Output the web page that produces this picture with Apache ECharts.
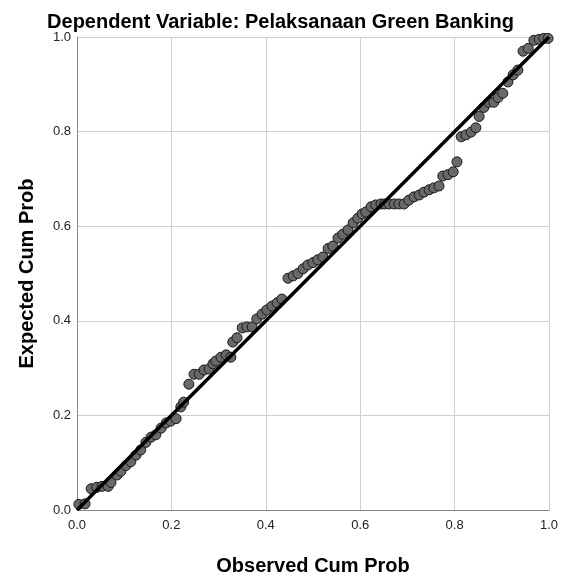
<!DOCTYPE html>
<html>
<head>
<meta charset="utf-8">
<script src="https://cdn.jsdelivr.net/npm/echarts@6/dist/echarts.min.js"></script>
<style>
  html, body { margin: 0; padding: 0; background: #fff; }
  #chart { width: 561px; height: 575px; }
</style>
</head>
<body>
<div id="chart"></div>
<script>
// observed vs expected cumulative probability
var observed = [
  0.004, 0.017, 0.030, 0.042, 0.053, 0.066, 0.072, 0.085, 0.093, 0.104,
  0.114, 0.125, 0.135, 0.146, 0.157, 0.167, 0.178, 0.189, 0.199, 0.210,
  0.220, 0.226, 0.237, 0.248, 0.259, 0.269, 0.280, 0.288, 0.294, 0.305,
  0.316, 0.326, 0.330, 0.339, 0.350, 0.360, 0.371, 0.381, 0.392, 0.402,
  0.413, 0.424, 0.434, 0.447, 0.458, 0.468, 0.479, 0.489, 0.500, 0.510,
  0.521, 0.532, 0.542, 0.553, 0.563, 0.574, 0.585, 0.595, 0.604, 0.612,
  0.623, 0.633, 0.644, 0.652, 0.661, 0.672, 0.682, 0.693, 0.703, 0.714,
  0.725, 0.735, 0.746, 0.756, 0.767, 0.775, 0.786, 0.797, 0.805, 0.814,
  0.824, 0.835, 0.845, 0.852, 0.862, 0.873, 0.883, 0.892, 0.902, 0.913,
  0.924, 0.934, 0.945, 0.956, 0.968, 0.979, 0.989, 0.998
];
var expected = [
  0.012, 0.013, 0.045, 0.048, 0.050, 0.050, 0.058, 0.074, 0.082, 0.094,
  0.102, 0.116, 0.127, 0.143, 0.154, 0.159, 0.173, 0.184, 0.188, 0.193,
  0.218, 0.228, 0.266, 0.287, 0.287, 0.296, 0.298, 0.309, 0.315, 0.323,
  0.328, 0.323, 0.355, 0.364, 0.385, 0.387, 0.387, 0.404, 0.414, 0.423,
  0.431, 0.438, 0.446, 0.490, 0.495, 0.500, 0.510, 0.518, 0.523, 0.529,
  0.535, 0.553, 0.558, 0.575, 0.583, 0.592, 0.607, 0.617, 0.626, 0.630,
  0.641, 0.645, 0.647, 0.647, 0.647, 0.647, 0.647, 0.647, 0.655, 0.662,
  0.666, 0.672, 0.677, 0.681, 0.685, 0.706, 0.709, 0.715, 0.736, 0.789,
  0.793, 0.799, 0.808, 0.832, 0.851, 0.862, 0.862, 0.872, 0.881, 0.905,
  0.920, 0.930, 0.970, 0.976, 0.993, 0.995, 0.997, 0.997
];
var refLine = [[0, 0], [1, 1]];
var tickMin = 0, tickMax = 1, tickStep = 0.2;

var chart = echarts.init(document.getElementById('chart'));

var points = [];
for (var i = 0; i < observed.length; i++) {
  points.push([observed[i], expected[i]]);
}

var font = 'Arial, "Liberation Sans", sans-serif';

var option = {
  backgroundColor: '#ffffff',
  animation: false,
  title: {
    text: 'Dependent Variable: Pelaksanaan Green Banking',
    left: 'center',
    top: 7,
    textStyle: { fontFamily: font, fontSize: 20, fontWeight: 'bold', color: '#000' }
  },
  grid: { left: 77, right: 12, top: 37, bottom: 65, outerBoundsMode: 'none' },
  xAxis: {
    type: 'value',
    min: tickMin, max: tickMax, interval: tickStep,
    name: 'Observed Cum Prob',
    nameLocation: 'middle',
    nameGap: 46,
    nameTextStyle: { fontFamily: font, fontSize: 20, fontWeight: 'bold', color: '#000' },
    axisLine: { lineStyle: { color: '#888', width: 1 } },
    axisTick: { show: false },
    axisLabel: {
      fontFamily: font, fontSize: 13, color: '#222', margin: 9,
      formatter: function (v) { return v.toFixed(1); }
    },
    splitLine: { show: true, lineStyle: { color: '#cfcfcf', width: 1 } }
  },
  yAxis: {
    type: 'value',
    min: tickMin, max: tickMax, interval: tickStep,
    name: 'Expected Cum Prob',
    nameLocation: 'middle',
    nameGap: 40,
    nameTextStyle: { fontFamily: font, fontSize: 20, fontWeight: 'bold', color: '#000' },
    axisLine: { show: true, lineStyle: { color: '#888', width: 1 } },
    axisTick: { show: false },
    axisLabel: {
      fontFamily: font, fontSize: 13, color: '#222', margin: 6,
      formatter: function (v) { return v.toFixed(1); }
    },
    splitLine: { show: true, lineStyle: { color: '#cfcfcf', width: 1 } }
  },
  series: [
    {
      type: 'scatter',
      data: points,
      symbolSize: 10,
      itemStyle: { color: '#696969', borderColor: '#1a1a1a', borderWidth: 1, opacity: 1 },
      z: 2
    },
    {
      type: 'line',
      data: refLine,
      symbol: 'none',
      lineStyle: { color: '#000', width: 3.5 },
      z: 3
    }
  ]
};

chart.setOption(option);
</script>
</body>
</html>
